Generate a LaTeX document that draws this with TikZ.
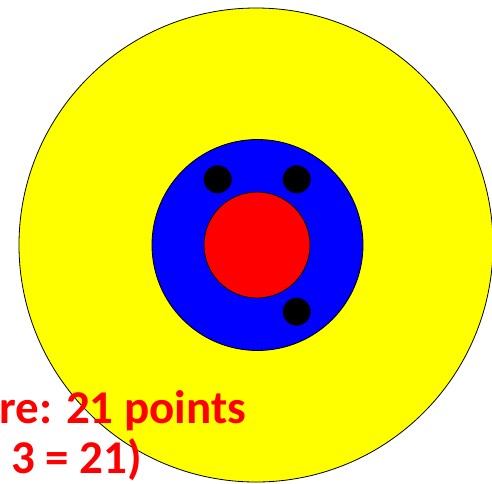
\documentclass[tikz,border=0pt]{standalone}
\usepackage{fontspec}
\setmainfont{Carlito}
\definecolor{pyellow}{RGB}{255,255,0}
\definecolor{pblue}{RGB}{0,0,255}
\definecolor{pred}{RGB}{255,0,0}
\begin{document}
\begin{tikzpicture}[x=1pt,y=-1pt,
  ring/.style={draw=black,line width=0.8pt},
  dot/.style={circle,fill=black,inner sep=0pt,minimum size=28pt},
  label/.style={text=pred,font=\bfseries\fontsize{47}{50}\selectfont,inner sep=0pt,anchor=base west}]
\useasboundingbox (0,0) rectangle (492,483);
\begin{scope}
\clip (0,0) rectangle (492,483);
\fill[white] (0,0) rectangle (492,483);
\draw[ring,fill=pyellow] (256,245) circle[radius=237];
\draw[ring,fill=pblue] (257.5,245) circle[radius=105.5];
\draw[ring,fill=pred] (257,245) circle[radius=53];
\node[dot] (d1) at (217.7,179.3) {};
\node[dot] (d2) at (296.7,179.3) {};
\node[dot] (d3) at (296.7,311.7) {};
\node[label] (t1) at (-1,423) {re: 21 points};
\node[label] (t2) at (11,473) {3 = 21)};
\end{scope}
\end{tikzpicture}
\end{document}
